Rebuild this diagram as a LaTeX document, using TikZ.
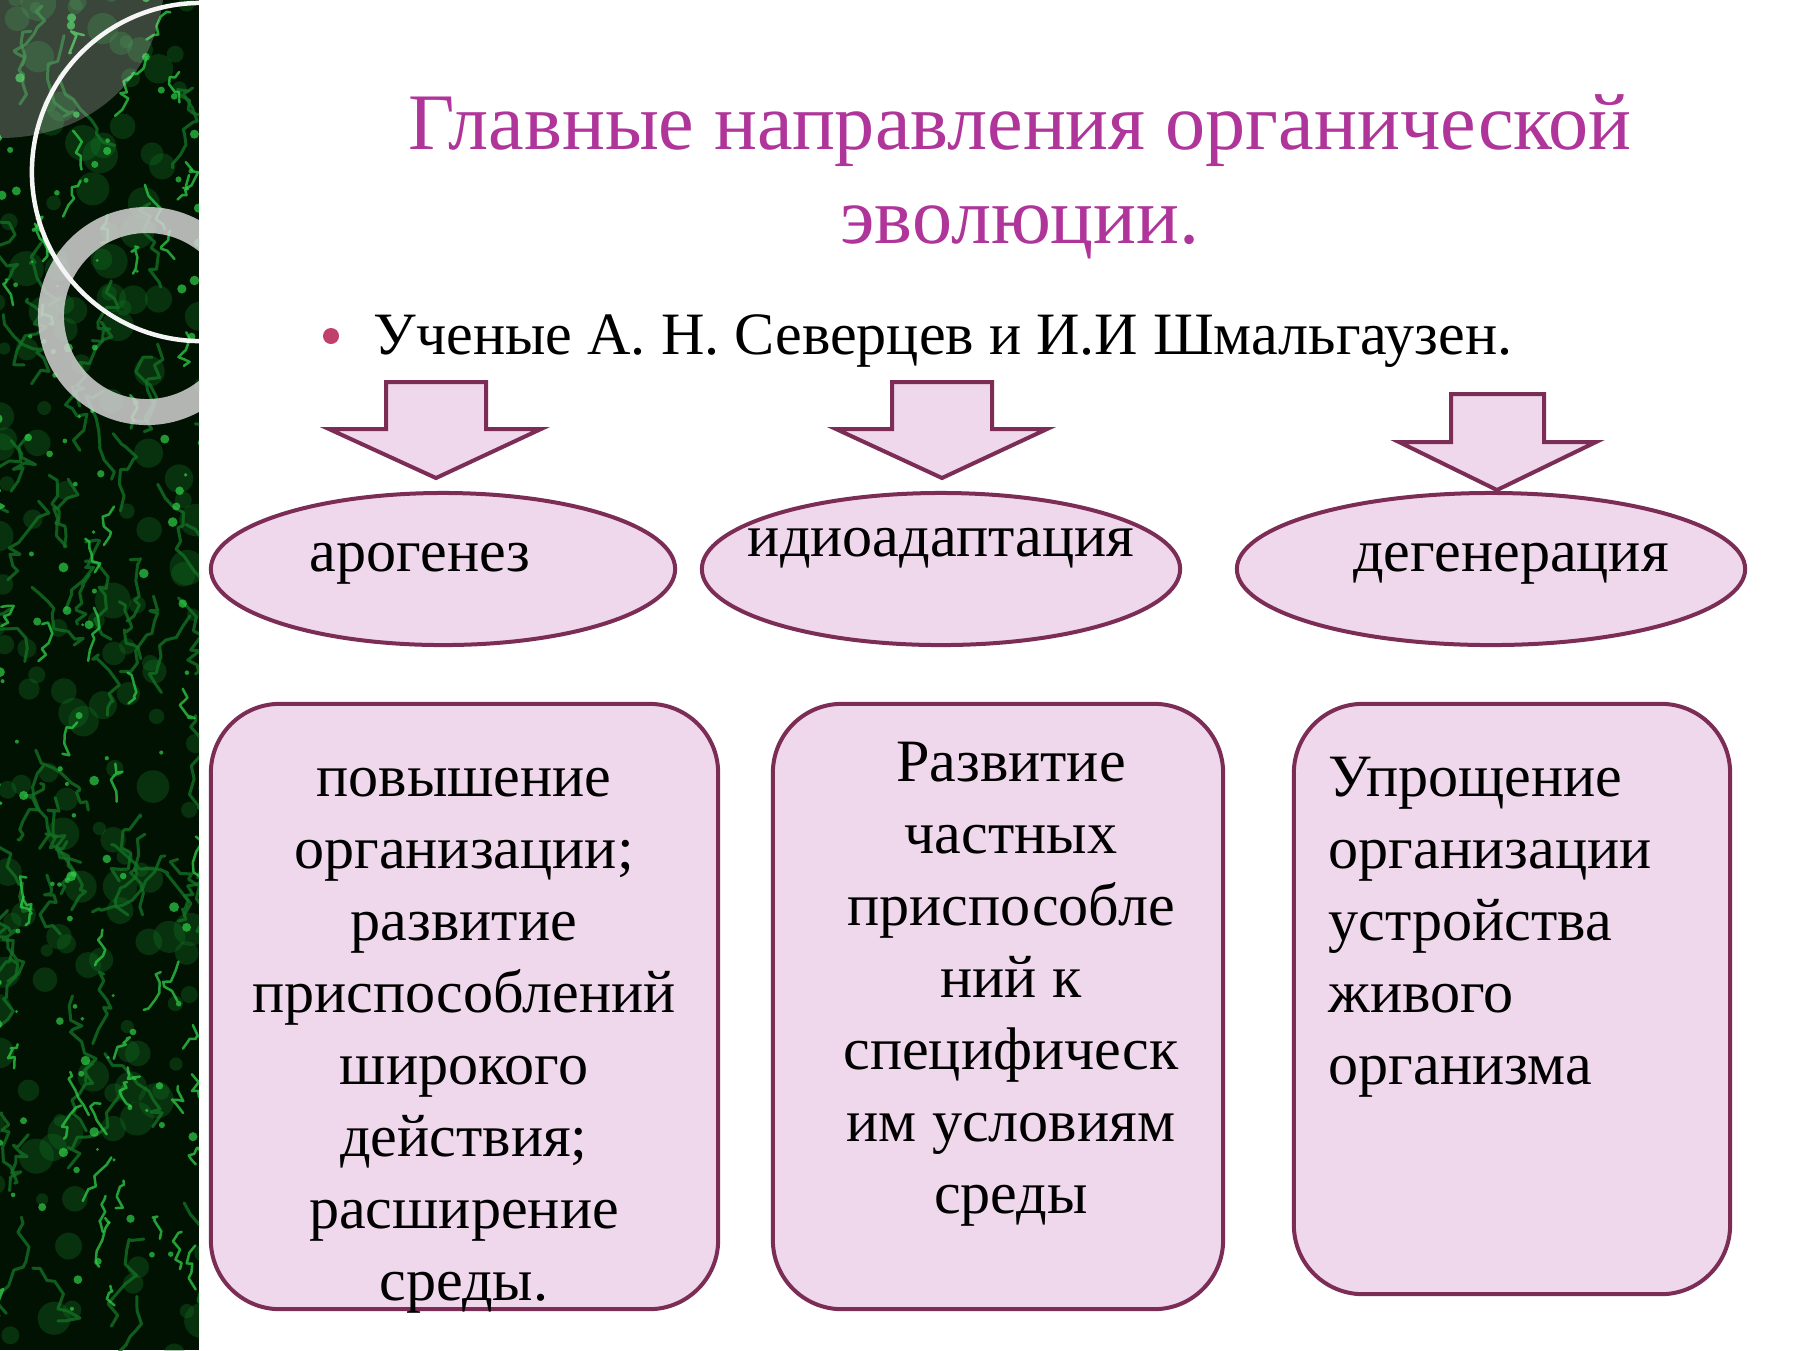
\documentclass[tikz,border=0pt]{standalone}
\usepackage{fontspec}
\setmainfont{Liberation Serif}
\usetikzlibrary{shapes.geometric}
\definecolor{ttl}{HTML}{B0359A}
\definecolor{strk}{HTML}{7B2D55}
\definecolor{fll}{HTML}{F0D8EC}
\definecolor{bul}{HTML}{C0406A}
\definecolor{pbase}{HTML}{021202}
\definecolor{gbright}{HTML}{2FD048}
\definecolor{gmid}{HTML}{137024}
\tikzset{
  shp/.style={draw=strk, fill=fll, line width=0.4mm},
  ell/.style={shp, ellipse, inner sep=0pt},
  bx/.style={shp, rectangle, rounded corners=6.9mm, inner sep=0pt},
  txt/.style={font=\fontsize{17.1pt}{20.5pt}\selectfont, inner sep=0pt, text=black},
  ttltxt/.style={font=\fontsize{22.8pt}{27pt}\selectfont, inner sep=0pt, text=ttl},
}
\begin{document}
\begin{tikzpicture}[x=0.01cm, y=-0.01cm]
\useasboundingbox (0,0) rectangle (1800,1350);
\fill[white] (0,0) rectangle (1800,1350);
% left textured panel
\begin{scope}
\clip (0,0) rectangle (199,1350);
\fill[pbase] (0,0) rectangle (199,1350);
\pgfmathsetseed{11}
\foreach \i in {1,...,160}{
  \pgfmathsetmacro\xx{rnd*210-5}
  \pgfmathsetmacro\yy{rnd*1360-5}
  \pgfmathsetmacro\rr{rnd*1.2+0.6}
  \fill[gmid, opacity=0.35] (\xx,\yy) circle[radius=\rr mm];
}
\foreach \i in {1,...,70}{
  \pgfmathsetmacro\xx{rnd*210-5}
  \pgfmathsetmacro\yy{rnd*1360-40}
  \draw[gmid, opacity=0.8, line width=0.3mm, line join=round, line cap=round] (\xx,\yy) \foreach \j in {1,...,10}{ -- ++(rnd*24-12, rnd*18-2) };
}
\foreach \i in {1,...,60}{
  \pgfmathsetmacro\xx{rnd*210-5}
  \pgfmathsetmacro\yy{rnd*1360-40}
  \draw[gbright, opacity=0.75, line width=0.25mm, line join=round, line cap=round] (\xx,\yy) \foreach \j in {1,...,6}{ -- ++(rnd*16-8, rnd*14-2) };
}
\foreach \i in {1,...,120}{
  \pgfmathsetmacro\xx{rnd*210-5}
  \pgfmathsetmacro\yy{rnd*1360-5}
  \pgfmathsetmacro\rr{rnd*0.35+0.15}
  \fill[gbright, opacity=0.7] (\xx,\yy) circle[radius=\rr mm];
}
\fill[white, opacity=0.22] (0,0) -- (163,0) .. controls (150,90) and (80,138) .. (0,138) -- cycle;
\draw[gray!35, opacity=0.85, line width=2.6mm] (147,316) circle[radius=9.6mm];
\draw[white!92!gray, line width=0.45mm] (201,172) circle[radius=16.9mm];
\end{scope}

% title
\node[ttltxt, anchor=base] (title1) at (1020,149) {Главные направления органической};
\node[ttltxt, anchor=base] (title2) at (1020,243) {эволюции.};
% bullet line
\fill[bul] (331,336) circle[radius=0.8mm];
\node[font=\fontsize{17.1pt}{20pt}\selectfont, inner sep=0pt, anchor=base west] (sci) at (373,354) {Ученые А. Н. Северцев и И.И Шмальгаузен.};

% block arrows
\draw[shp, line join=miter] (386,382) -- (486,382) -- (486,429) -- (541,429) -- (436,478) -- (329,429) -- (386,429) -- cycle;
\draw[shp, line join=miter] (892,382) -- (992,382) -- (992,429) -- (1047,429) -- (942,478) -- (836,429) -- (892,429) -- cycle;
\draw[shp, line join=miter] (1451,394) -- (1544,394) -- (1544,442) -- (1596,442) -- (1497,490) -- (1399,442) -- (1451,442) -- cycle;

% ellipses
\node[ell, minimum width=46.4mm, minimum height=15.2mm] (e1) at (443,569) {};
\node[ell, minimum width=47.8mm, minimum height=15.2mm] (e2) at (941,569) {};
\node[ell, minimum width=50.8mm, minimum height=15.2mm] (e3) at (1491,569) {};
\node[txt, anchor=base] (t1) at (420,571) {арогенез};
\node[txt, anchor=base] (t2) at (941,556) {идиоадаптация};
\node[txt, anchor=base] (t3) at (1511,571) {дегенерация};

% boxes
\node[bx, minimum width=50.7mm, minimum height=60.5mm] (b1) at (464.5,1006.5) {};
\node[bx, minimum width=45.0mm, minimum height=60.5mm] (b2) at (998,1006.5) {};
\node[bx, minimum width=43.6mm, minimum height=59.0mm] (b3) at (1512,999) {};

\node[txt, anchor=north, align=center] (d1) at (464,745) {\strut повышение\\ организации;\\ развитие\\ приспособлений\\ широкого\\ действия;\\ расширение\\ среды.};
\node[txt, anchor=north, align=center] (d2) at (1011,730) {\strut Развитие\\ частных\\ приспособле\\ ний к\\ специфическ\\ им условиям\\ среды};
\node[txt, anchor=north west, align=left] (d3) at (1328,745) {\strut Упрощение\\ организации\\ устройства\\ живого\\ организма};
\end{tikzpicture}
\end{document}
